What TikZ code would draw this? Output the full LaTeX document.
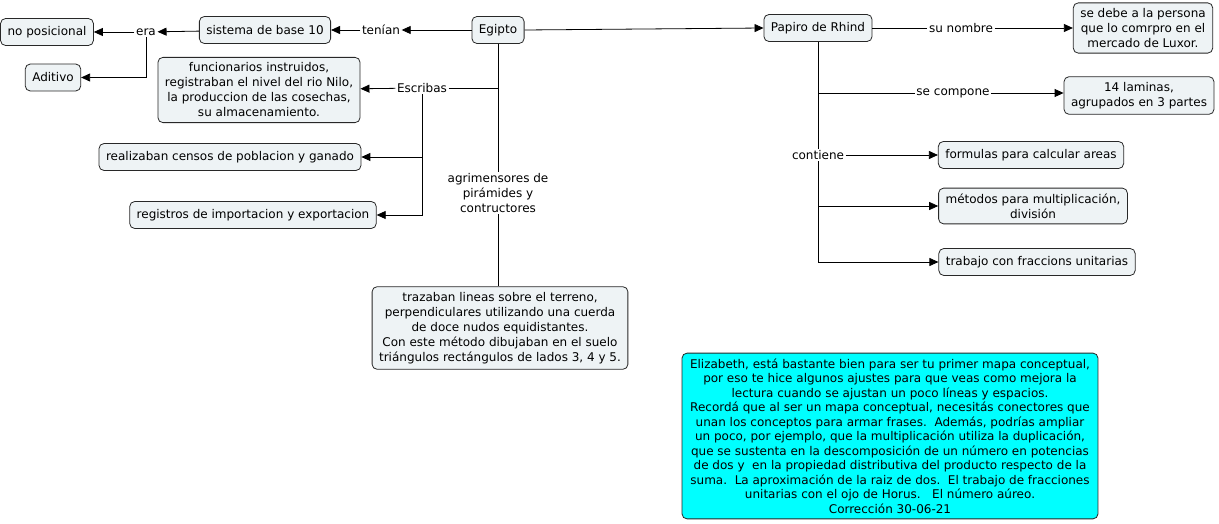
\documentclass[tikz,border=0pt]{standalone}
\usepackage{fontspec}
\setmainfont{DejaVu Sans}
\usetikzlibrary{arrows.meta}
\definecolor{boxfill}{RGB}{238,243,245}
\definecolor{boxline}{RGB}{40,40,40}
\definecolor{notefill}{RGB}{0,255,255}
\begin{document}
\begin{tikzpicture}[x=1pt,y=-1pt,
  base/.style={font=\fontsize{12}{15}\selectfont},
  concept/.style={base,draw=boxline,fill=boxfill,rounded corners=5pt,align=center,inner xsep=7pt,inner ysep=5.5pt,minimum height=27pt,line width=0.8pt},
  link/.style={base,fill=white,inner sep=1.5pt,align=center},
  conn/.style={line width=0.8pt,black},
  arr/.style={conn,-{Triangle[length=9pt,width=8pt]}},
  note/.style={concept,fill=notefill,font=\fontsize{12}{14.5}\selectfont,inner xsep=8pt}
]
\useasboundingbox (0,0) rectangle (1219,524);
% concepts
\node[concept] (eg) at (498,30) {Egipto};
\node[concept] (sis) at (265,30) {sistema de base 10};
\node[concept] (nop) at (47,32) {no posicional};
\node[concept] (adi) at (53,77.5) {Aditivo};
\node[concept] (fun) at (259,90) {funcionarios instruidos,\\registraban el nivel del rio Nilo,\\la produccion de las cosechas,\\su almacenamiento.};
\node[concept] (rea) at (230,157) {realizaban censos de poblacion y ganado};
\node[concept] (reg) at (253,215) {registros de importacion y exportacion};
\node[concept] (tra) at (500,328) {trazaban lineas sobre el terreno,\\perpendiculares utilizando una cuerda\\de doce nudos equidistantes.\\Con este método dibujaban en el suelo\\triángulos rectángulos de lados 3, 4 y 5.};
\node[concept] (pap) at (818,28) {Papiro de Rhind};
\node[concept] (deb) at (1143,28) {se debe a la persona\\que lo comrpro en el\\mercado de Luxor.};
\node[concept] (lam) at (1139,95.5) {14 laminas,\\agrupados en 3 partes};
\node[concept] (for) at (1031,155) {formulas para calcular areas};
\node[concept] (met) at (1033,206) {métodos para multiplicación,\\división};
\node[concept] (trb) at (1037,262) {trabajo con fraccions unitarias};
\node[note] (eli) at (890,436) {Elizabeth, está bastante bien para ser tu primer mapa conceptual,\\por eso te hice algunos ajustes para que veas como mejora la\\lectura cuando se ajustan un poco líneas y espacios.\\Recordá que al ser un mapa conceptual, necesitás conectores que\\unan los conceptos para armar frases.\ \ Además, podrías ampliar\\un poco, por ejemplo, que la multiplicación utiliza la duplicación,\\que se sustenta en la descomposición de un número en potencias\\de dos y\ \ en la propiedad distributiva del producto respecto de la\\suma.\ \ La aproximación de la raiz de dos.\ \ El trabajo de fracciones\\unitarias con el ojo de Horus.\ \ \ El número aúreo.\\Corrección 30-06-21};
% linking phrases
\node[link] (ten) at (381,30) {tenían};
\node[link] (era) at (146,32) {era};
\node[link] (esc) at (422,88) {Escribas};
\node[link] (agr) at (498,193) {agrimensores de\\pirámides y\\contructores};
\node[link] (sun) at (961,28) {su nombre};
\node[link] (sec) at (953,93) {se compone};
\node[link] (con) at (818,155) {contiene};
% connectors
\draw[arr] (eg) -- (ten);
\draw[arr] (ten) -- (sis);
\draw[arr] (sis) -- (era);
\draw[arr] (era) -- (nop);
\draw[arr] (era.south) |- (adi.east);
\draw[conn] (eg.south) -- (agr.north);
\draw[conn] (esc.east) -- (esc.east -| eg.south);
\draw[arr] (esc) -- (fun);
\draw[arr] (esc.south) |- (rea.east);
\draw[arr] (esc.south) |- (reg.east);
\draw[conn] (agr.south) -- (agr.south |- tra.north);
\draw[arr] (eg.east) -- (pap.west);
\draw[conn] (pap) -- (sun);
\draw[arr] (sun) -- (deb);
\draw[conn] (pap.south) -- (con.north);
\draw[conn] (pap.south |- sec.west) -- (sec.west);
\draw[arr] (sec.east) -- (sec.east -| lam.west);
\draw[arr] (con.east) -- (for.west);
\draw[arr] (con.south) |- (met.west);
\draw[arr] (con.south) |- (trb.west);
\end{tikzpicture}
\end{document}
